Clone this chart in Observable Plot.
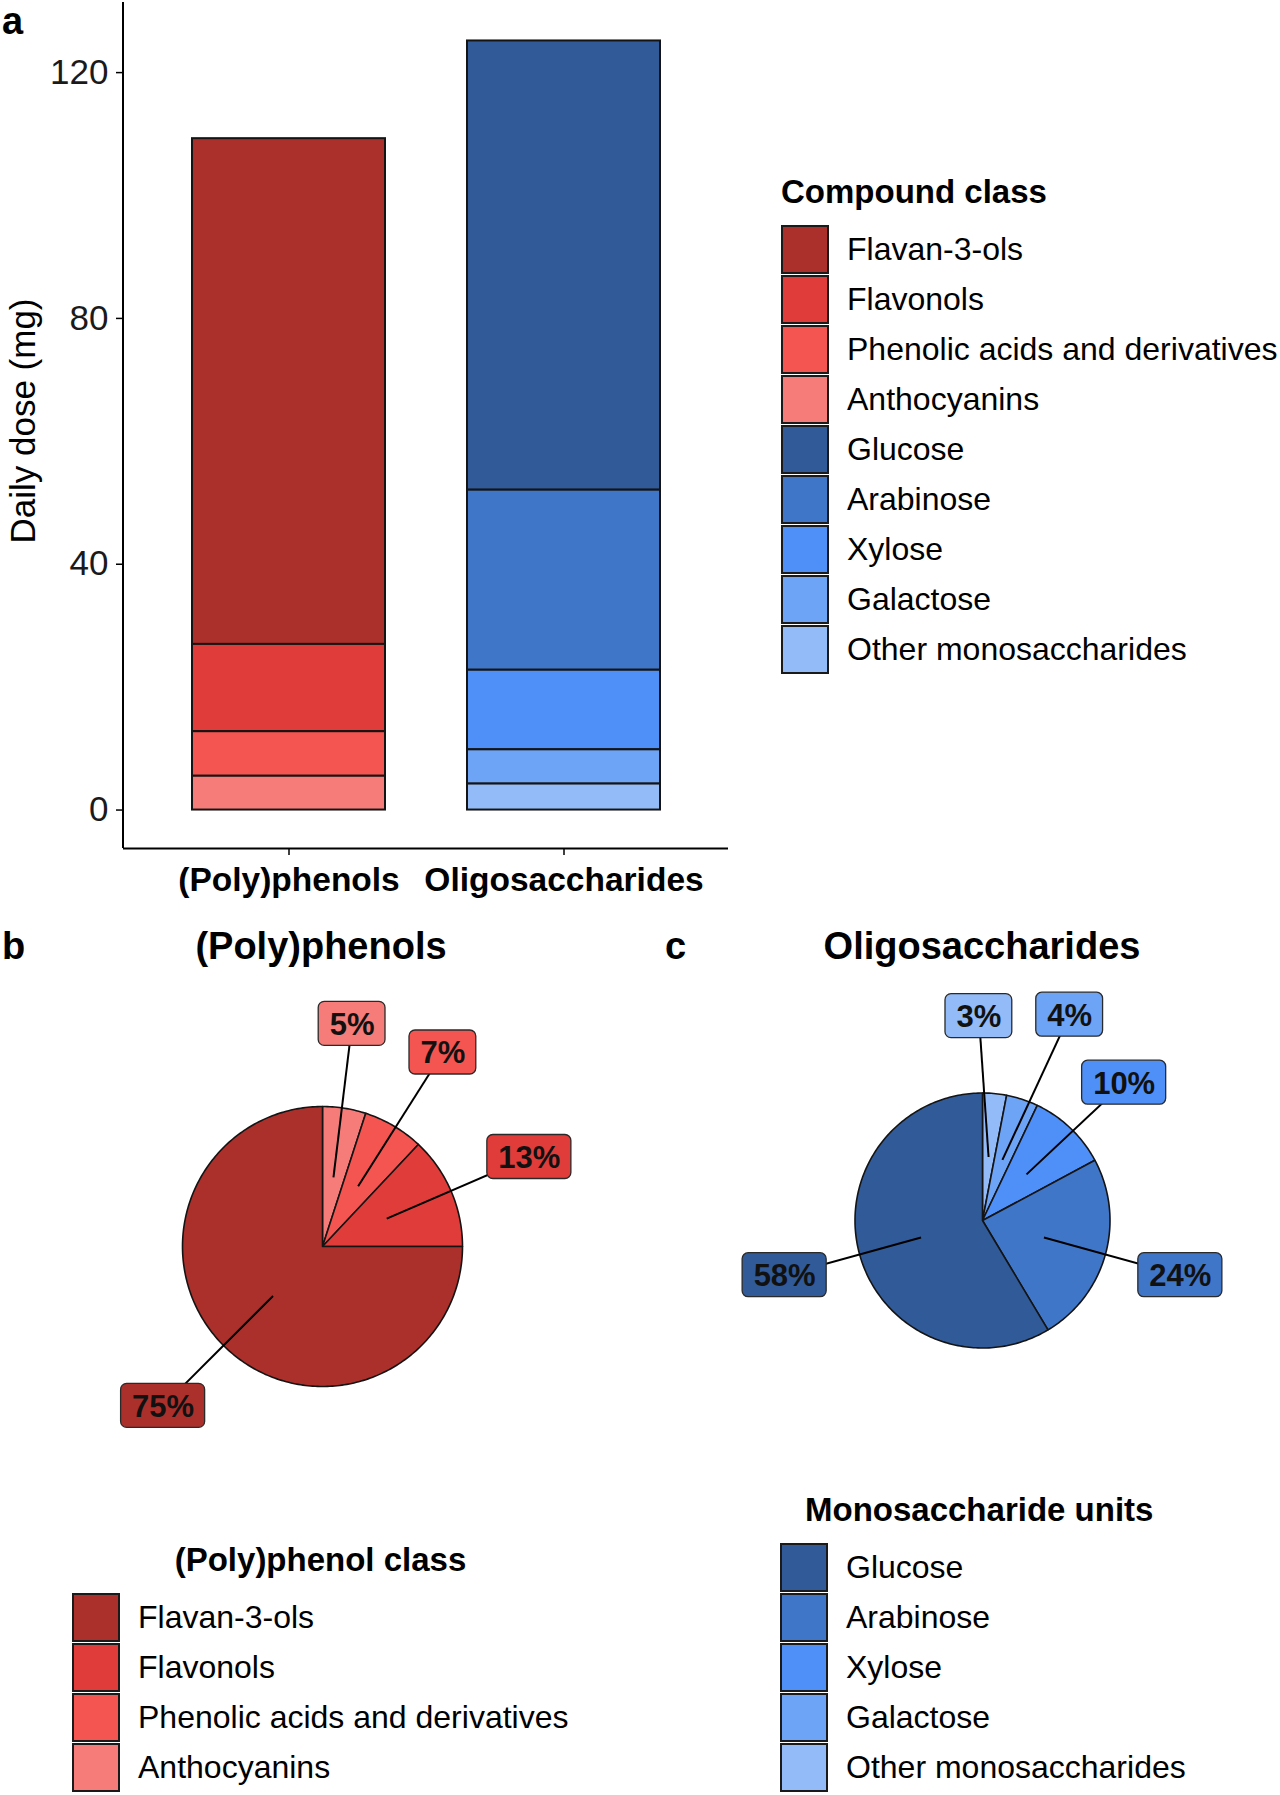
<!DOCTYPE html>
<html>
<head>
<meta charset="utf-8">
<script src="https://cdn.jsdelivr.net/npm/d3@7"></script>
<script src="https://cdn.jsdelivr.net/npm/@observablehq/plot@0.6"></script>
<style>
  html, body { margin: 0; padding: 0; background: #fff; }
  body { font-family: "Liberation Sans", Arial, Helvetica, sans-serif; color: #000; }
  #fig { position: relative; width: 1280px; height: 1795px; overflow: hidden; background: #fff; }
  .abs { position: absolute; }
  .panel { font-weight: bold; font-size: 38px; line-height: 1; }
  .ptitle { font-weight: bold; font-size: 38px; line-height: 1; transform: translate(-50%, -50%); white-space: nowrap; }
  .ytitle { font-size: 35px; line-height: 1; white-space: nowrap; transform: translate(-50%, -50%) rotate(-90deg); }
  .legend .ltitle { font-weight: bold; font-size: 33px; line-height: 1; white-space: nowrap; }
  .legend .row { display: flex; align-items: center; height: 50px; }
  .legend .sw { width: 44px; height: 45px; border: 2px solid #1a1a1a; box-sizing: content-box; margin-right: 18px; }
  .legend .lab { font-size: 32px; white-space: nowrap; }
</style>
</head>
<body>
<div id="fig"></div>
<script>
// ---------------- data ----------------
const groups = ["(Poly)phenols", "Oligosaccharides"];
const polyClasses = ["Flavan-3-ols", "Flavonols", "Phenolic acids and derivatives", "Anthocyanins"];
const polyDose = [82.3, 14.2, 7.25, 5.5];
const polyPct = [75, 13, 7, 5];
const sugarClasses = ["Glucose", "Arabinose", "Xylose", "Galactose", "Other monosaccharides"];
const sugarDose = [73.1, 29.3, 12.95, 5.57, 4.23];
const sugarPct = [58, 24, 10, 4, 3];
const yTicks = [0, 40, 80, 120];
const yTitle = "Daily dose (mg)";
const polyColors = ["#ab302c", "#e03d3a", "#f55550", "#f57c78"];
const sugarColors = ["#305a98", "#4076c8", "#4f90f8", "#6ea4f5", "#93bbf7"];

const allClasses = polyClasses.concat(sugarClasses);
const allColors = polyColors.concat(sugarColors);
const FONT = '"Liberation Sans", Arial, Helvetica, sans-serif';
const fig = document.getElementById("fig");

function place(el, left, top) {
  el.classList.add("abs");
  el.style.left = left + "px";
  el.style.top = top + "px";
  fig.appendChild(el);
  return el;
}
function div(cls, text) {
  const d = document.createElement("div");
  d.className = cls;
  if (text != null) d.textContent = text;
  return d;
}

// ---------------- panel a : stacked bars ----------------
const barRows = [];
polyClasses.forEach((c, i) => barRows.push({group: groups[0], cls: c, value: polyDose[i]}));
sugarClasses.forEach((c, i) => barRows.push({group: groups[1], cls: c, value: sugarDose[i]}));
const maxTotal = Math.max(d3.sum(polyDose), d3.sum(sugarDose));
const expand = maxTotal * 0.05;
// bottom-to-top stacking order
const stackOrder = polyClasses.slice().reverse().concat(sugarClasses.slice().reverse());

const barPlot = Plot.plot({
  width: 740,
  height: 910,
  marginLeft: 123,
  marginRight: 12,
  marginTop: 2,
  marginBottom: 62,
  style: {fontFamily: FONT, fontSize: "35px", color: "#000", background: "transparent", overflow: "visible"},
  x: {domain: groups, paddingInner: 0.3, paddingOuter: 0.25, label: null},
  y: {domain: [-expand, maxTotal + expand], label: null},
  color: {domain: allClasses, range: allColors},
  marks: [
    Plot.barY(barRows, {x: "group", y: "value", fill: "cls", order: stackOrder, stroke: "#141414", strokeWidth: 2}),
    Plot.ruleY([-expand], {stroke: "#000", strokeWidth: 2}),
    (index, scales, values, dims) => {
      const l = document.createElementNS("http://www.w3.org/2000/svg", "line");
      l.setAttribute("x1", dims.marginLeft);
      l.setAttribute("x2", dims.marginLeft);
      l.setAttribute("y1", dims.marginTop);
      l.setAttribute("y2", dims.height - dims.marginBottom);
      l.setAttribute("stroke", "#000");
      l.setAttribute("stroke-width", 2);
      return l;
    },
    Plot.axisY({ticks: yTicks, tickSize: 7, tickPadding: 8, label: null, fontSize: 35, stroke: "#000", strokeWidth: 1.5, fill: "#1a1a1a"}),
    Plot.axisX({tickSize: 7, tickPadding: 12, label: null, fontSize: 33.5, fontWeight: "bold", stroke: "#000", strokeWidth: 1.5, fill: "#000"})
  ]
});
place(barPlot, 0, 0);

place(div("panel", "a"), 2, 2);
const yt = div("ytitle", yTitle);
place(yt, 22, 421);

// legends
function legend(title, classes, colors, left, top) {
  const L = div("legend");
  const t = div("ltitle", title);
  L.appendChild(t);
  const box = div("rows");
  classes.forEach((c, i) => {
    const r = div("row");
    const s = div("sw");
    s.style.background = colors[i];
    const lab = div("lab", c);
    r.appendChild(s);
    r.appendChild(lab);
    box.appendChild(r);
  });
  L.appendChild(box);
  place(L, left, top);
  return L;
}
const legA = legend("Compound class", allClasses, allColors, 781, 175);
legA.querySelector(".ltitle").style.marginBottom = "16px";

// ---------------- pies ----------------
function pie(pcts, classes, colors, R, cx, cy, W, H) {
  // slices drawn clockwise from 12 o'clock, last class first
  const order = d3.range(pcts.length).reverse();
  const total = d3.sum(pcts);
  const slices = [];
  let cum = 0;
  order.forEach(i => {
    const a0 = cum / total * 2 * Math.PI;
    cum += pcts[i];
    const a1 = cum / total * 2 * Math.PI;
    slices.push({i, cls: classes[i], color: colors[i], pct: pcts[i], a0, a1, mid: (a0 + a1) / 2});
  });
  // polygon points (unit radius = 1)
  const pts = [];
  slices.forEach(s => {
    pts.push({cls: s.cls, x: 0, y: 0});
    const n = Math.max(2, Math.ceil((s.a1 - s.a0) / (Math.PI / 180)));
    for (let k = 0; k <= n; k++) {
      const a = s.a0 + (s.a1 - s.a0) * k / n;
      pts.push({cls: s.cls, x: Math.sin(a), y: Math.cos(a)});
    }
    pts.push({cls: s.cls, x: 0, y: 0});
  });
  // labels: at 1.6 R along the slice mid angle, with simple repulsion (pixel space)
  const fs = 31, bh = 44, pad = 24;
  const labs = slices.map(s => {
    const txt = s.pct + "%";
    const w = 22 + fs * (0.556 * (txt.length - 1) + 0.889);
    return {s, txt, w, h: bh, px: 1.61 * R * Math.sin(s.mid), py: -1.61 * R * Math.cos(s.mid),
            ix: 0.5 * Math.sin(s.mid), iy: 0.5 * Math.cos(s.mid)};
  });
  for (let it = 0; it < 100; it++) {
    let moved = false;
    for (let a = 0; a < labs.length; a++) for (let b = a + 1; b < labs.length; b++) {
      const A = labs[a], B = labs[b];
      const dx = B.px - A.px, dy = B.py - A.py;
      const ox = (A.w + B.w) / 2 + pad - Math.abs(dx);
      const oy = (A.h + B.h) / 2 + pad - Math.abs(dy);
      if (ox > 0 && oy > 0) {
        moved = true;
        if (ox < oy) { const sx = (dx >= 0 ? 1 : -1) * ox / 2; A.px -= sx; B.px += sx; }
        else { const sy = (dy >= 0 ? 1 : -1) * oy / 2; A.py -= sy; B.py += sy; }
      }
    }
    if (!moved) break;
  }
  labs.forEach(l => {
    l.x = l.px / R; l.y = -l.py / R;
    l.x1 = (l.px - l.w / 2) / R; l.x2 = (l.px + l.w / 2) / R;
    l.y1 = -(l.py - l.h / 2) / R; l.y2 = -(l.py + l.h / 2) / R;
    l.cls = l.s.cls;
  });
  const hx = W / 2 / R, hy = H / 2 / R;
  const p = Plot.plot({
    width: W, height: H,
    margin: 0,
    style: {fontFamily: FONT, background: "transparent", overflow: "visible"},
    x: {domain: [-hx, hx], axis: null},
    y: {domain: [-hy, hy], axis: null},
    color: {domain: allClasses, range: allColors},
    marks: [
      Plot.line(pts, {x: "x", y: "y", z: "cls", fill: "cls", stroke: "#141414", strokeWidth: 1.6, strokeLinejoin: "round"}),
      Plot.link(labs, {x1: "ix", y1: "iy", x2: "x", y2: "y", stroke: "#000", strokeWidth: 2}),
      Plot.rect(labs, {x1: "x1", x2: "x2", y1: "y1", y2: "y2", fill: "cls", stroke: "#2a2a2a", strokeWidth: 1.3, rx: 6}),
      Plot.text(labs, {x: "x", y: "y", text: "txt", fontSize: fs, fontWeight: "bold", fill: "#111", dy: 1})
    ]
  });
  place(p, cx - W / 2, cy - H / 2);
}
pie(polyPct, polyClasses, polyColors, 140, 322, 1246, 620, 600);
pie(sugarPct, sugarClasses, sugarColors, 127.5, 982, 1220, 580, 560);

place(div("panel", "b"), 2, 927);
place(div("panel", "c"), 665, 927);
place(div("ptitle", groups[0]), 321, 946);
place(div("ptitle", groups[1]), 982, 946);

// legends b / c
const legB = legend("(Poly)phenol class", polyClasses, polyColors, 72, 1543);
legB.querySelector(".ltitle").style.cssText += "text-align:center;margin-bottom:16px;width:497px;";
const legC = legend("Monosaccharide units", sugarClasses, sugarColors, 780, 1493);
legC.querySelector(".ltitle").style.cssText += "margin-left:25px;margin-bottom:16px;";
</script>
</body>
</html>
